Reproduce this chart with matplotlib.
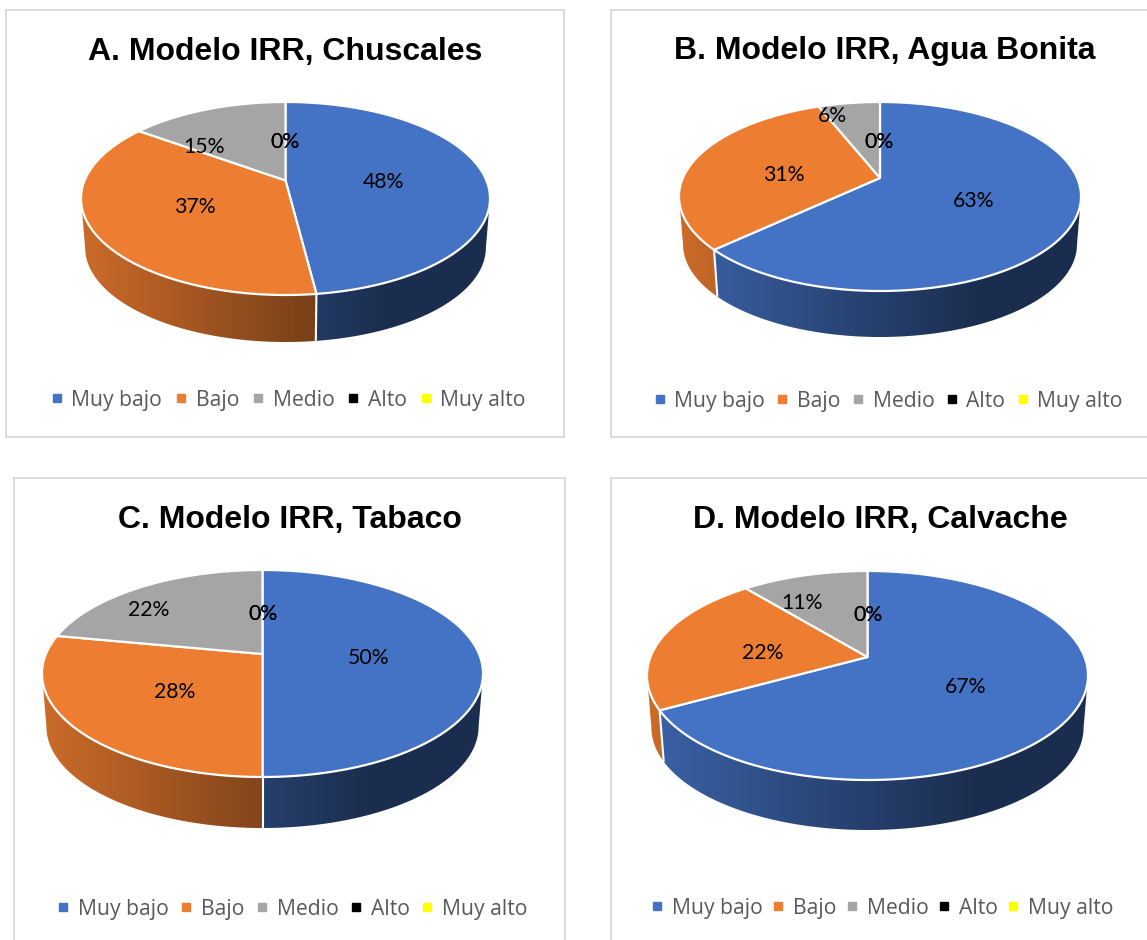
import numpy as np
import matplotlib
matplotlib.use("Agg")
import matplotlib.pyplot as plt
from matplotlib.lines import Line2D
from matplotlib.patches import Polygon

W, H = 1147, 940

categories = ["Muy bajo", "Bajo", "Medio", "Alto", "Muy alto"]
colors = ["#4472C4", "#ED7D31", "#A5A5A5", "#000000", "#FFFF00"]

titles = ["A. Modelo IRR, Chuscales", "B. Modelo IRR, Agua Bonita",
          "C. Modelo IRR, Tabaco", "D. Modelo IRR, Calvache"]
chuscales = [48, 37, 15, 0, 0]
agua_bonita = [63, 31, 6, 0, 0]
tabaco = [50, 28, 22, 0, 0]
calvache = [67, 22, 11, 0, 0]
panel_values = [chuscales, agua_bonita, tabaco, calvache]

# Panel layout, in pixels: frame (left, top, right, bottom)
frames = [(6, 10, 564, 437), (611, 10, 1160, 437),
          (14, 478, 565, 950), (611, 478, 1160, 950)]
# Disc: centre x, centre y, half width, half height, wall bottom, apex lift
discs = [(285.5, 198.5, 204.5, 96.5, 342, 0.187),
         (880.0, 196.5, 201.0, 94.5, 337, 0.196),
         (262.5, 673.5, 220.5, 103.5, 828, 0.188),
         (867.5, 675.5, 220.5, 104.5, 830, 0.177)]
title_pos = [(285, 52), (885, 51), (290, 520), (880, 520)]
legend_pos = [(288, 400.25), (888, 401.25), (292, 909.25), (882, 908.25)]
legend_gaps = [0.59, 0.52, 0.53, 0.44]
label_pos = [
    [(383, 182), (195, 207), (204, 147), (285, 142)],
    [(974, 201), (784, 175), (832, 116), (879, 142)],
    [(369, 658), (175, 692), (149, 610), (263, 614)],
    [(966, 687), (763, 653), (802, 603), (868, 615)],
]


def project(theta, disc, lower=False):
    """Map a clockwise angle from 12 o'clock onto the tilted disc."""
    cx, cy, a, r, bottom, b = disc
    x_u = np.sin(theta) * np.sqrt(1 - b ** 2) / (1 + b * np.cos(theta))
    y_u = (np.cos(theta) + b) / (1 + b * np.cos(theta))
    if lower:
        a_low, r_low = a * 0.98, r * 0.98
        return cx + a_low * x_u, bottom - r_low - r_low * y_u
    return cx + a * x_u, cy - r * y_u


def shade_ramp(color, n=400):
    """Left-to-right darkening of a wall colour, as a one-row image."""
    rgb = np.array(matplotlib.colors.to_rgb(color))
    u = np.linspace(0, 1, n)
    return (rgb[None, :] * np.maximum(0.40, 0.86 - 0.62 * u)[:, None])[None, :, :]


def draw_panel(ax, values, disc, frame):
    cx, cy, a, r, bottom, b = disc
    edges = np.radians(np.cumsum([0] + list(values)) * 3.6)
    front_start = np.arccos(-b)
    front_end = 2 * np.pi - front_start
    apex_x, apex_y = cx, cy - r * b

    # Side wall: a horizontal colour ramp clipped to the band under the front rim
    for i, val in enumerate(values):
        t0, t1 = max(edges[i], front_start), min(edges[i + 1], front_end)
        if val == 0 or t1 <= t0:
            continue
        t = np.linspace(t0, t1, 200)
        xt, yt = project(t, disc)
        xb, yb = project(t, disc, lower=True)
        outline = np.column_stack([np.r_[xt, xb[::-1]], np.r_[yt, yb[::-1]]])
        patch = Polygon(outline, closed=True, transform=ax.transData,
                        facecolor="none", edgecolor="none")
        ax.add_patch(patch)
        img = ax.imshow(shade_ramp(colors[i]), extent=(cx - a, cx + a, bottom, cy),
                        aspect="auto", interpolation="bilinear", zorder=2)
        img.set_clip_path(patch)

    # White separators on the wall where two slices meet
    for e in edges[1:-1]:
        if front_start < e < front_end:
            xt, yt = project(e, disc)
            xb, yb = project(e, disc, lower=True)
            ax.plot([xt, xb], [yt, yb], color="white", lw=1.5, zorder=3,
                    solid_capstyle="butt")

    # Top face of each slice
    for i, val in enumerate(values):
        if val == 0:
            continue
        t = np.linspace(edges[i], edges[i + 1], max(int(val * 3.6), 2) + 1)
        x, y = project(t, disc)
        ax.fill(np.r_[apex_x, x], np.r_[apex_y, y], facecolor=colors[i],
                edgecolor="white", lw=1.6, joinstyle="round", zorder=4)

    ax.set_xlim(frame[0], frame[2])
    ax.set_ylim(frame[3], frame[1])
    ax.set_xticks([])
    ax.set_yticks([])
    for spine in ax.spines.values():
        spine.set_color("#D9D9D9")
        spine.set_linewidth(1.3)


fig = plt.figure(figsize=(W / 100, H / 100), dpi=100, facecolor="white")

for k, values in enumerate(panel_values):
    fr = frames[k]
    ax = fig.add_axes([fr[0] / W, 1 - fr[3] / H, (fr[2] - fr[0]) / W, (fr[3] - fr[1]) / H])
    draw_panel(ax, values, discs[k], fr)

    ax.text(*title_pos[k], titles[k], family="Liberation Sans", weight="bold",
            fontsize=23.05, color="black", ha="center", va="center", zorder=6)

    # Data labels; the two empty classes print on top of each other
    for i, val in enumerate(values):
        if val > 0:
            x, y = label_pos[k][i]
        else:
            x, y = label_pos[k][3]
            x += 0.4 * (i - 3)
        ax.text(x, y, f"{val}%", family="Lato", fontsize=15.3, color="black",
                ha="center", va="center", zorder=7)

    handles = [Line2D([], [], linestyle="none", marker="s", markersize=5.6,
                      markerfacecolor=c, markeredgecolor=c) for c in colors]
    ax.legend(handles, categories, loc="center", ncol=5, frameon=False,
              bbox_to_anchor=legend_pos[k], bbox_transform=ax.transData,
              prop={"family": "Open Sans", "size": 15.2}, labelcolor="#595959",
              handlelength=0.6, handletextpad=0.4, columnspacing=legend_gaps[k],
              borderpad=0, borderaxespad=0)

fig.savefig("out.png", dpi=100, facecolor="white")
